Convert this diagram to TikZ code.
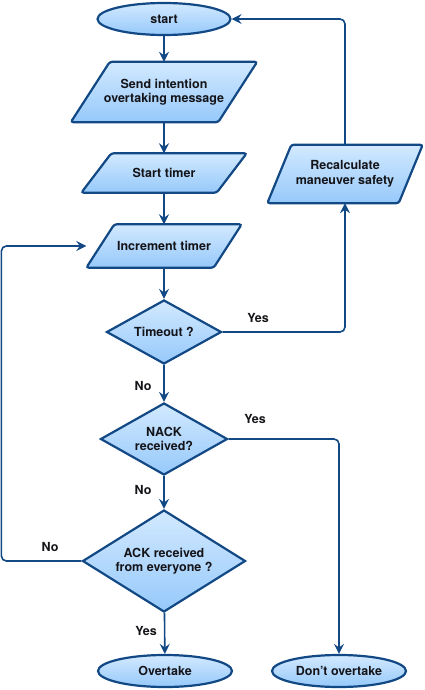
\documentclass[tikz,border=0pt]{standalone}
\usepackage{fontspec}
\setmainfont{TeX Gyre Heros}
\usetikzlibrary{shapes.geometric,arrows.meta,backgrounds}
\definecolor{boxtop}{RGB}{210,233,255}
\definecolor{boxbot}{RGB}{150,201,250}
\definecolor{boxline}{RGB}{18,72,132}
\definecolor{txt}{RGB}{20,20,25}
\begin{document}
\begin{tikzpicture}[x=1pt, y=-1pt,
	every node/.style = {font=\fontsize{12.5}{14.5}\selectfont\bfseries, text=txt, align=center},
	shade box/.style = {draw=boxline, line width=2.2pt, top color=boxtop, bottom color=boxbot, inner sep=0pt},
	term/.style = {shade box, ellipse, minimum width=133pt, minimum height=32pt},
	io/.style = {rectangle, inner sep=0pt},
	test/.style = {shade box, diamond, aspect=1.8},
	conn/.style = {draw=boxline, line width=1.6pt, rounded corners=5pt, -{Stealth[length=10pt, width=10pt, inset=3.5pt]}},
	lbl/.style = {inner sep=0pt}]
	\useasboundingbox (0,0) rectangle (424,690);
	% main column
	\node[term] (start) at (164,19) {start};
	\node[io, minimum width=186pt, minimum height=60pt] (send) at (164,92) {Send intention\\overtaking message};
	\node[io, minimum width=165pt, minimum height=39pt] (timer) at (164,173) {Start timer};
	\node[io, minimum width=155pt, minimum height=43pt] (inc) at (164,246) {Increment timer};
	\node[test, minimum width=115pt, minimum height=64pt] (timeout) at (164,332) {Timeout ?};
	\node[test, minimum width=127pt, minimum height=72pt] (nack) at (164,439) {NACK\\received?};
	\node[test, minimum width=163pt, minimum height=102pt] (ack) at (164,561) {ACK received\\from everyone ?};
	\node[term, minimum width=134pt] (over) at (165,671) {Overtake};
	% right column
	\node[io, minimum width=155pt, minimum height=58pt] (recalc) at (345,174) {Recalculate\\maneuver safety};
	\node[term, minimum width=134pt] (dont) at (339,671) {Don't overtake};
	% parallelograms behind the io nodes
	\begin{scope}[on background layer]
		\foreach \n/\s in {send/39, timer/30, inc/28, recalc/24}
			\draw[shade box, rounded corners=2.5pt] ([xshift=\s pt]\n.north west) -- (\n.north east)
				-- ([xshift=-\s pt]\n.south east) -- (\n.south west) -- cycle;
	\end{scope}
	% labels
	\node[lbl] (yes1) at (258,318) {Yes};
	\node[lbl] (no1) at (143,386) {No};
	\node[lbl] (yes2) at (255,419) {Yes};
	\node[lbl] (no2) at (143,490) {No};
	\node[lbl] (no3) at (50,547) {No};
	\node[lbl] (yes3) at (146,631) {Yes};
	% connectors
	\draw[conn] (start) -- (send);
	\draw[conn] (send) -- (timer);
	\draw[conn] (timer) -- (inc);
	\draw[conn] (inc) -- (timeout);
	\draw[conn] (timeout) -- (nack);
	\draw[conn] (nack) -- (ack);
	\draw[conn] (ack) -- (over);
	\draw[conn] (timeout.east) -| (recalc.south);
	\draw[conn] (recalc.north) |- (start.east);
	\draw[conn] (nack.east) -| (dont.north);
	\draw[conn] (ack.west) -- ++(-80,0) |- (inc.west);
\end{tikzpicture}
\end{document}
